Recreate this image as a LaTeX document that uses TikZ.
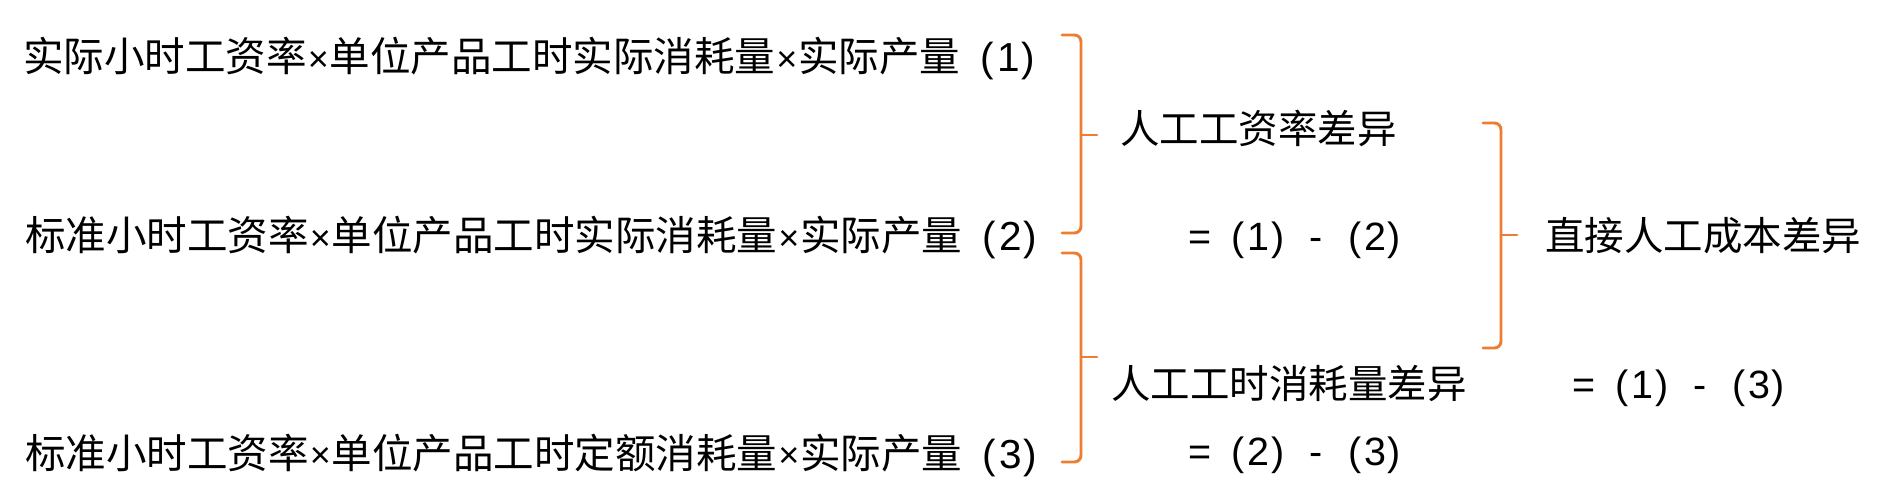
\documentclass[tikz,border=0pt]{standalone}
\usepackage{fontspec}
\newfontfamily\cjk{Noto Sans CJK SC}
\newfontfamily\lat{Liberation Sans}
\definecolor{braceorange}{HTML}{ED7D31}
\newcommand{\mulx}{\hspace{0.6pt}{\lat\fontsize{27pt}{27pt}\selectfont\raisebox{0.5pt}{×}}\hspace{0.6pt}}
\newcommand{\pnum}[1]{{\lat(\kern2.5pt#1\kern1pt)}}
\newcommand{\tagnum}[1]{\hspace{15.5pt}\pnum{#1}}
\newcommand{\diffeq}[2]{{\lat =}\hspace{15pt}\pnum{#1}\hspace{19pt}{\lat -}\hspace{19pt}\pnum{#2}}
\begin{document}
\begin{tikzpicture}[x=0.75pt,y=-0.75pt,
  txt/.style={anchor=base west,inner sep=0pt,font=\cjk\fontsize{29.6pt}{32pt}\selectfont,text=black},
  lefttxt/.style={txt,font=\cjk\fontsize{30.4pt}{32pt}\selectfont},
  bracepath/.style={draw=braceorange,line width=2.2pt,rounded corners=5pt,line cap=round}]
\useasboundingbox (0,0) rectangle (1878,502);
% left column
\node[lefttxt] (l1) at (23,72) {实际小时工资率\mulx 单位产品工时实际消耗量\mulx 实际产量\tagnum{1}};
\node[lefttxt] (l2) at (25,251) {标准小时工资率\mulx 单位产品工时实际消耗量\mulx 实际产量\tagnum{2}};
\node[lefttxt] (l3) at (25,468) {标准小时工资率\mulx 单位产品工时定额消耗量\mulx 实际产量\tagnum{3}};
% middle column
\node[txt] (rate) at (1120,144) {人工工资率差异};
\node[txt] (rateeq) at (1188,251) {\diffeq{1}{2}};
\node[txt] (eff) at (1111,398) {人工工时消耗量差异};
\node[txt] (effeq) at (1188,465) {\diffeq{2}{3}};
% right column
\node[txt] (tot) at (1545,251) {直接人工成本差异};
\node[txt] (toteq) at (1572,398) {\diffeq{1}{3}};
% braces
\coordinate (b1t) at (1062,35);
\coordinate (b1b) at (1062,233);
\coordinate (b1m) at (1081,135);
\draw[bracepath] (b1t) -- (1081,35) -- (1081,233) -- (b1b);
\draw[bracepath,rounded corners=0pt] (b1m) -- (1097,135);
\coordinate (b2t) at (1062,253);
\coordinate (b2b) at (1062,462);
\coordinate (b2m) at (1081,357);
\draw[bracepath] (b2t) -- (1081,253) -- (1081,462) -- (b2b);
\draw[bracepath,rounded corners=0pt] (b2m) -- (1097,357);
\coordinate (b3t) at (1483,123);
\coordinate (b3b) at (1483,348);
\coordinate (b3m) at (1501,235);
\draw[bracepath] (b3t) -- (1501,123) -- (1501,348) -- (b3b);
\draw[bracepath,rounded corners=0pt] (b3m) -- (1517,235);
\end{tikzpicture}
\end{document}
